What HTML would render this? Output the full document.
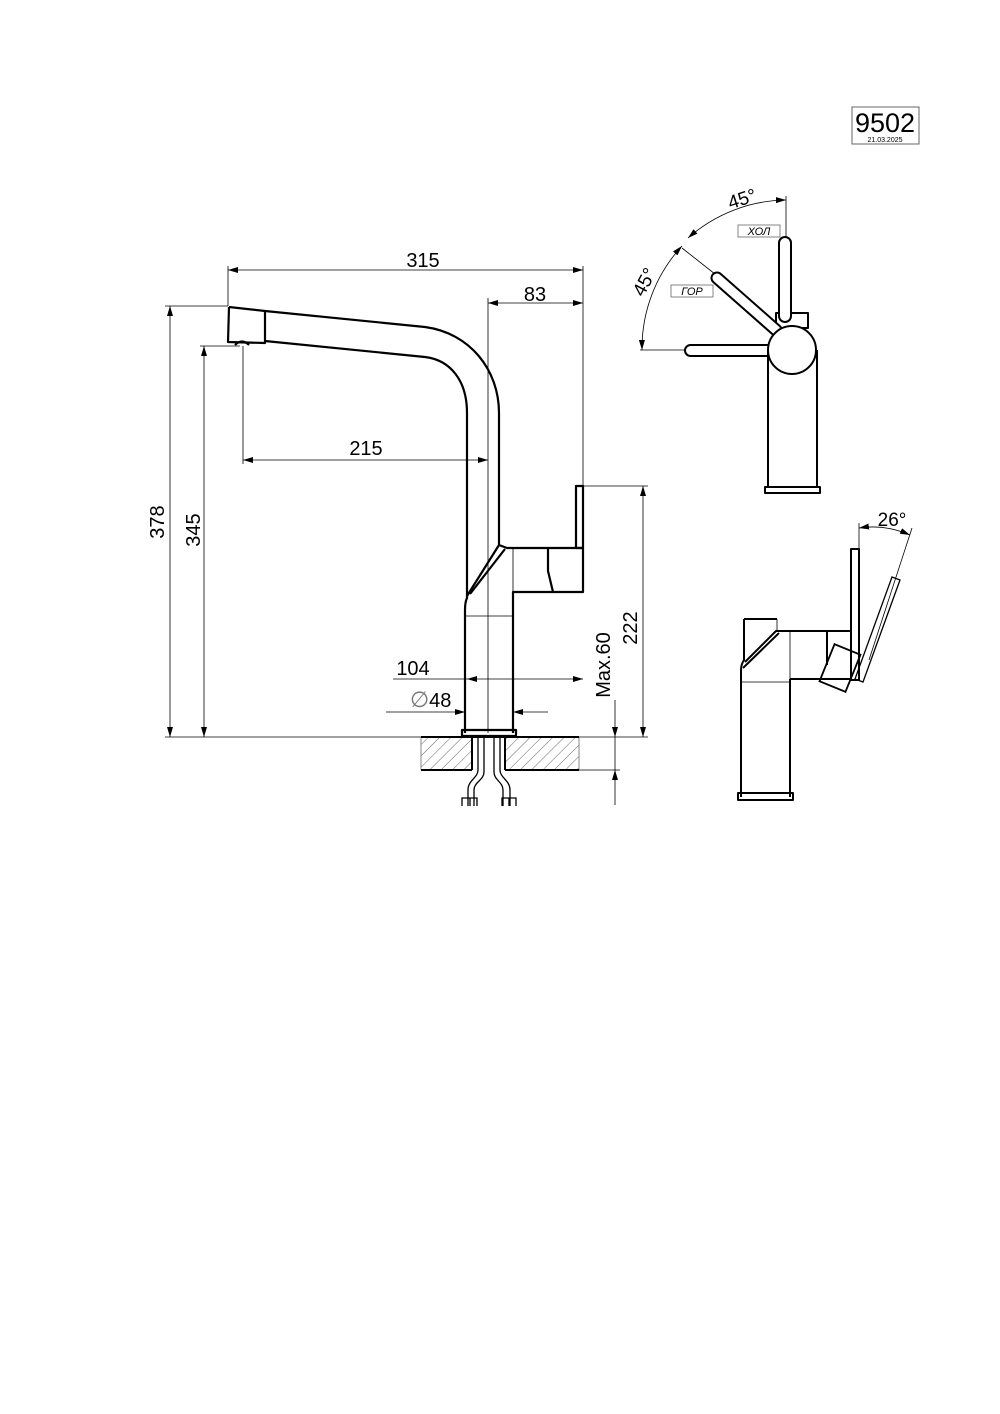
<!DOCTYPE html>
<html><head><meta charset="utf-8"><style>
html,body{margin:0;padding:0;background:#fff;}
svg{display:block;}
text{font-family:"Liberation Sans",sans-serif;fill:#000;}
</style></head><body>
<svg width="1000" height="1414" viewBox="0 0 1000 1414" xmlns="http://www.w3.org/2000/svg">
<defs>
<marker id="a" viewBox="0 0 10 6" refX="10" refY="3" markerWidth="10" markerHeight="6" orient="auto-start-reverse" markerUnits="userSpaceOnUse"><path d="M0,0 L10,3 L0,6 Z" fill="#000"/></marker>
<pattern id="h" width="8" height="8" patternUnits="userSpaceOnUse" patternTransform="rotate(45)"><line x1="0" y1="0" x2="0" y2="8" stroke="#555" stroke-width="0.9"/></pattern>
</defs>

<!-- title -->
<rect x="852" y="107" width="67" height="37" fill="none" stroke="#666" stroke-width="1"/>
<text x="885" y="132" font-size="27" text-anchor="middle">9502</text>
<text x="885" y="142" font-size="7" text-anchor="middle">21.03.2025</text>

<g fill="none" stroke="#000" stroke-width="0.8">
<line x1="228" y1="266" x2="228" y2="306"/>
<line x1="583" y1="266" x2="583" y2="486"/>
<line x1="488" y1="298" x2="488" y2="733"/>
<line x1="165" y1="306" x2="228" y2="306"/>
<line x1="200" y1="346" x2="240" y2="346"/>
<line x1="243" y1="346" x2="243" y2="464"/>
<line x1="165" y1="737" x2="648" y2="737"/>
<line x1="583" y1="486" x2="648" y2="486"/>
<line x1="579" y1="770" x2="620" y2="770"/>
<line x1="228" y1="270" x2="583" y2="270" marker-start="url(#a)" marker-end="url(#a)"/>
<line x1="488" y1="303" x2="583" y2="303" marker-start="url(#a)" marker-end="url(#a)"/>
<line x1="243" y1="460" x2="488" y2="460" marker-start="url(#a)" marker-end="url(#a)"/>
<line x1="170" y1="306" x2="170" y2="737" marker-start="url(#a)" marker-end="url(#a)"/>
<line x1="204" y1="346" x2="204" y2="737" marker-start="url(#a)" marker-end="url(#a)"/>
<line x1="643" y1="486" x2="643" y2="737" marker-start="url(#a)" marker-end="url(#a)"/>
<line x1="615" y1="700" x2="615" y2="737" marker-end="url(#a)"/>
<line x1="615" y1="805" x2="615" y2="770" marker-end="url(#a)"/>
<line x1="615" y1="737" x2="615" y2="770"/>
<line x1="393" y1="679" x2="467" y2="679"/>
<line x1="467" y1="679" x2="583" y2="679" marker-start="url(#a)" marker-end="url(#a)"/>
<line x1="386" y1="712" x2="465" y2="712" marker-end="url(#a)"/>
<line x1="548" y1="712" x2="513" y2="712" marker-end="url(#a)"/>
</g>
<text x="423" y="267" font-size="20" text-anchor="middle">315</text>
<text x="535" y="301" font-size="20" text-anchor="middle">83</text>
<text x="366" y="455" font-size="20" text-anchor="middle">215</text>
<text x="413" y="675" font-size="20" text-anchor="middle">104</text>
<text x="410" y="707" font-size="20"><tspan fill="#777" font-size="22">∅</tspan>48</text>
<text transform="translate(164,522) rotate(-90)" font-size="20" text-anchor="middle">378</text>
<text transform="translate(200,530) rotate(-90)" font-size="20" text-anchor="middle">345</text>
<text transform="translate(637,628) rotate(-90)" font-size="20" text-anchor="middle">222</text>
<text transform="translate(610,665) rotate(-90)" font-size="20" text-anchor="middle">Max.60</text>

<g fill="none" stroke="#000" stroke-width="2.2" stroke-linejoin="round">
<path d="M229,307 L265,311 L425,327 C470,333 499,370 499,413 L499,545 L507,548 L583,548 L583,592 L553,592 L548,571 L548,548"/>
<path d="M553,592 L513,592 L513,733"/>
<path d="M229,307 L228,342 L265,343 L265,311"/>
<path d="M265,341 L425,357 C450,360 467,380 467,413 L467,598 C465,602 465,606 465,610 L465,733"/>
<path d="M499,545 L467,596"/>
<path d="M505,549 L470,594"/>
<rect x="576" y="486" width="7" height="62"/>
<rect x="462" y="730" width="54" height="6"/>
<path d="M235,345 Q242,338 249,345"/>
</g>
<g stroke="#000" stroke-width="0.8">
<line x1="513" y1="548" x2="513" y2="592"/>
<line x1="465" y1="616" x2="513" y2="616"/>
</g>
<rect x="421" y="737" width="51" height="33" fill="url(#h)"/>
<rect x="505" y="737" width="74" height="33" fill="url(#h)"/>
<g fill="none" stroke="#888" stroke-width="1">
<line x1="421" y1="737" x2="421" y2="770"/>
<line x1="579" y1="737" x2="579" y2="770"/>
</g>
<g fill="none" stroke="#000" stroke-width="2">
<line x1="421" y1="737" x2="579" y2="737"/>
<line x1="421" y1="770" x2="472" y2="770"/>
<line x1="505" y1="770" x2="579" y2="770"/>
<line x1="472" y1="737" x2="472" y2="770"/>
<line x1="505" y1="737" x2="505" y2="770"/>
</g>
<g fill="none" stroke="#000" stroke-width="1.3">
<path d="M478,737 L478,770 C478,778 468,780 468,790 L468,806"/>
<path d="M484,737 L484,772 C484,780 474,782 474,790 L474,806"/>
<path d="M494,737 L494,772 C494,780 503,782 503,790 L503,806"/>
<path d="M500,737 L500,770 C500,778 510,780 510,790 L510,806"/>
<path d="M462,806 L462,798 L477,798 L477,806 M470,798 L470,806"/>
<path d="M502,806 L502,798 L516,798 L516,806 M509,798 L509,806"/>
</g>

<g fill="none" stroke="#000" stroke-width="0.8">
<line x1="786" y1="196" x2="786" y2="243"/>
<line x1="682" y1="248" x2="720" y2="278"/>
<line x1="640" y1="350" x2="685" y2="350"/>
<path d="M786,200 A151,151 0 0 0 688,238" marker-start="url(#a)" marker-end="url(#a)"/>
<path d="M682,246 A151,151 0 0 0 642,350" marker-start="url(#a)" marker-end="url(#a)"/>
<rect x="738" y="225" width="42" height="12" stroke="#666"/>
<rect x="671" y="285" width="42" height="12" stroke="#666"/>
</g>
<text x="759" y="235" font-size="11" text-anchor="middle" font-style="italic">ХОЛ</text>
<text x="692" y="295" font-size="11" text-anchor="middle" font-style="italic">ГОР</text>
<text transform="translate(744,205) rotate(-18)" font-size="19" text-anchor="middle">45°</text>
<text transform="translate(650,285) rotate(-62)" font-size="19" text-anchor="middle">45°</text>
<g fill="#fff" stroke="#000" stroke-width="2" stroke-linejoin="round">
<rect x="776" y="313" width="32" height="15"/>
<rect x="779" y="237" width="12" height="85" rx="6"/>
<line x1="717" y1="278" x2="776" y2="330" stroke-width="13" stroke-linecap="round"/>
<line x1="717" y1="278" x2="776" y2="330" stroke="#fff" stroke-width="9" stroke-linecap="round"/>
<rect x="685" y="345" width="90" height="11" rx="5.5"/>
<path d="M768,350 L768,490 L817,490 L817,350"/>
<circle cx="792" cy="350" r="24"/>
<rect x="765" y="487" width="55" height="6"/>
</g>

<g fill="none" stroke="#000" stroke-width="0.8">
<line x1="859" y1="523" x2="859" y2="549"/>
<line x1="912" y1="528" x2="869" y2="660"/>
<path d="M859,528 Q885,524 910,535" marker-start="url(#a)" marker-end="url(#a)"/>
<line x1="790" y1="631" x2="790" y2="679"/>
<line x1="741" y1="682" x2="790" y2="682"/>
<line x1="777" y1="619" x2="777" y2="631"/>
</g>
<text x="892" y="526" font-size="19" text-anchor="middle">26°</text>
<g fill="none" stroke="#000" stroke-width="2" stroke-linejoin="round">
<path d="M744,619 L777,619"/>
<path d="M744,619 L744,660 C742,663 741,666 741,670 L741,797"/>
<path d="M745,662 L776,631 L851,631 M743,668 L779,633"/>
<path d="M790,679 L851,679 M790,679 L790,797"/>
<rect x="851" y="549" width="8" height="131"/>
<rect x="738" y="793" width="55" height="7"/>
<line x1="827" y1="631" x2="827" y2="665"/>
</g>
<g fill="none" stroke="#000" stroke-width="1.3">
<rect x="-14" y="-20" width="28" height="40" transform="translate(840,668) rotate(22)" stroke-width="1.8"/>
<path d="M892,577 L900,580 L863,682 L855,679 Z"/>
</g>
</svg>
</body></html>
